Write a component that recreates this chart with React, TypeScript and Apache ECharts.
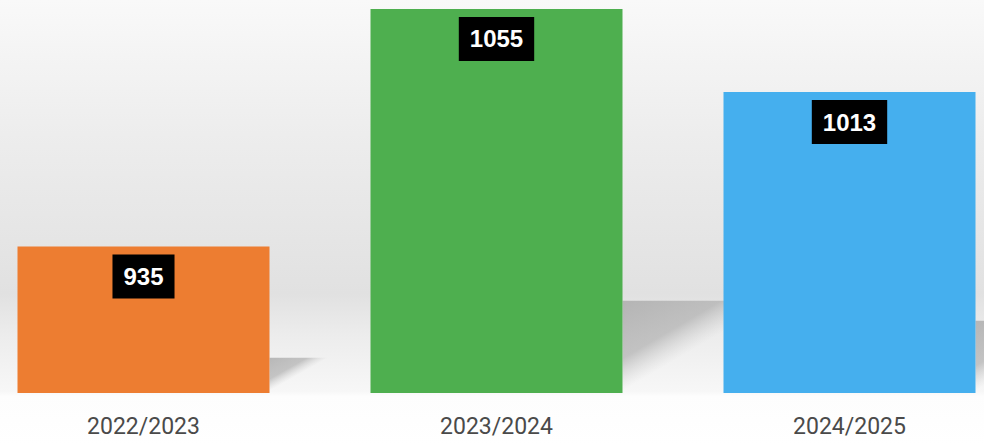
import React, { useEffect, useRef } from "react";
import * as echarts from "echarts";

const categories = ["2022/2023", "2023/2024", "2024/2025"];
const values = [935, 1055, 1013];
const barColors = ["#ED7D31", "#4EAF4F", "#45AFEE"];
const axisMin = 861;
const axisMax = 1059.5;

const BAR_WIDTH = 252;

export default function App() {
  const ref = useRef<HTMLDivElement>(null);

  useEffect(() => {
    document.body.style.margin = "0";
    if (!ref.current) return;
    const chart = echarts.init(ref.current, undefined, { renderer: "svg" });
    const option: any = {
      animation: false,
      graphic: [
        {
          type: "rect",
          z: -10,
          silent: true,
          shape: { x: 0, y: 0, width: 984, height: 445 },
          style: {
            fill: new echarts.graphic.LinearGradient(0, 0, 0, 1, [
              { offset: 0, color: "#f9f9f9" },
              { offset: 0.3, color: "#ededed" },
              { offset: 0.66, color: "#e1e1e1" },
              { offset: 0.75, color: "#ececec" },
              { offset: 0.88, color: "#f7f7f7" },
              { offset: 0.89, color: "#fdfdfd" },
              { offset: 1, color: "#ffffff" },
            ]),
          },
        },
      ],
      grid: {
        left: -33,
        right: -42,
        top: 0,
        bottom: 52,
        outerBoundsMode: "none",
        containLabel: false,
      },
      xAxis: {
        type: "category",
        data: categories,
        axisLine: { show: false },
        axisTick: { show: false },
        splitLine: { show: false },
        axisLabel: {
          margin: 22,
          fontSize: 23,
          fontFamily: "Roboto",
          color: "#4a4a4a",
        },
      },
      yAxis: {
        type: "value",
        min: axisMin,
        max: axisMax,
        show: false,
        splitLine: { show: false },
      },
      series: [
        {
          type: "custom",
          z: 1,
          silent: true,
          data: values.map((v, i) => [i, v]),
          encode: { x: 0, y: 1 },
          renderItem: (params: any, api: any) => {
            const idx = api.value(0);
            const v = api.value(1);
            const top = api.coord([idx, v]);
            const bot = api.coord([idx, axisMin]);
            const h = bot[1] - top[1];
            const xr = top[0] + BAR_WIDTH / 2;
            const s = h * 0.24;
            return {
              type: "polygon",
              shape: {
                points: [
                  [xr, bot[1] - 2],
                  [xr, bot[1] - s],
                  [xr + s / 0.6, bot[1] - s],
                ],
              },
              style: {
                fill: {
                  type: "linear",
                  x: 0,
                  y: 0,
                  x2: 1,
                  y2: 1,
                  colorStops: [
                    { offset: 0, color: "rgba(165,165,165,0.75)" },
                    { offset: 0.32, color: "rgba(170,170,170,0.65)" },
                    { offset: 0.5, color: "rgba(200,200,200,0)" },
                    { offset: 1, color: "rgba(200,200,200,0)" },
                  ],
                },
              },
            };
          },
        },
        {
          type: "bar",
          z: 2,
          barWidth: BAR_WIDTH,
          data: values.map((v, i) => ({
            value: v,
            itemStyle: { color: barColors[i] },
          })),
          label: {
            show: true,
            position: "insideTop",
            distance: 8,
            formatter: "{c}",
            color: "#ffffff",
            fontWeight: "bold",
            fontSize: 24,
            fontFamily: "Liberation Sans",
            backgroundColor: "#000000",
            padding: [10, 11],
            lineHeight: 24,
          },
        },
      ],
    };
    chart.setOption(option);
    return () => chart.dispose();
  }, []);

  return <div ref={ref} style={{ width: 984, height: 445 }} />;
}
